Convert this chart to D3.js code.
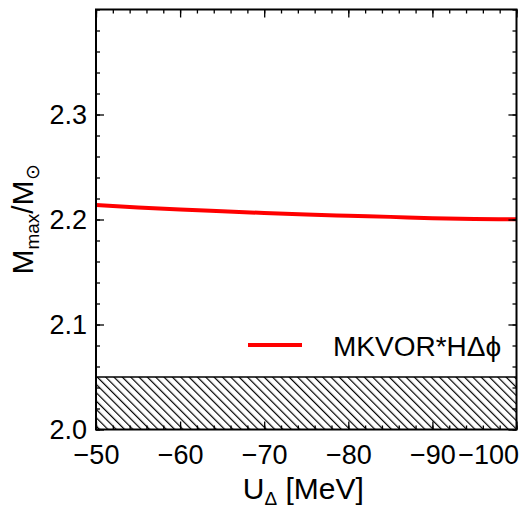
<!DOCTYPE html>
<html>
<head>
<meta charset="utf-8">
<script src="https://cdn.jsdelivr.net/npm/d3@7"></script>
<style>
  body { margin: 0; background: #fff; }
  text { font-family: "Liberation Sans", Arial, sans-serif; fill: #000; }
</style>
</head>
<body>
<div id="chart"></div>
<script>
// data
var uDelta = [-50, -55, -60, -65, -70, -75, -80, -85, -90, -95, -100];
var mMax = [2.2138, 2.2115, 2.2095, 2.2078, 2.2062, 2.2048, 2.2036, 2.2025, 2.2012, 2.2005, 2.2003];
var bandLimits = [2.0, 2.05];
var xTicks = [-50, -60, -70, -80, -90, -100];
var yTicks = [2.0, 2.1, 2.2, 2.3];
var seriesName = "MKVOR*HΔϕ";

var margin = {top: 9.5, right: 8.5, bottom: 78.5, left: 96},
    width = 525 - margin.left - margin.right,
    height = 508 - margin.top - margin.bottom;

var svg = d3.select("#chart")
    .append("svg")
    .attr("width", 525)
    .attr("height", 508);

var defs = svg.append("defs");
defs.append("pattern")
    .attr("id", "hatch")
    .attr("patternUnits", "userSpaceOnUse")
    .attr("width", 5.9)
    .attr("height", 5.9)
    .attr("patternTransform", "rotate(-45)")
    .append("line")
    .attr("x1", 0.6).attr("y1", 0)
    .attr("x2", 0.6).attr("y2", 5.9)
    .attr("stroke", "#000")
    .attr("stroke-width", 1.2);

defs.append("clipPath")
    .attr("id", "clip")
    .append("rect")
    .attr("width", width)
    .attr("height", height);

var g = svg.append("g")
    .attr("transform", "translate(" + margin.left + "," + margin.top + ")");

var x = d3.scaleLinear().domain([-50, -100]).range([0, width]);
var y = d3.scaleLinear().domain([2.0, 2.4]).range([height, 0]);

// hatched band
g.append("rect")
    .attr("x", 0)
    .attr("y", y(bandLimits[1]))
    .attr("width", width)
    .attr("height", y(bandLimits[0]) - y(bandLimits[1]))
    .attr("fill", "url(#hatch)");
g.append("line")
    .attr("x1", 0).attr("x2", width)
    .attr("y1", y(bandLimits[1])).attr("y2", y(bandLimits[1]))
    .attr("stroke", "#000")
    .attr("stroke-width", 1.4);

// curve
g.append("path")
    .datum(uDelta.map(function (d, i) { return [d, mMax[i]]; }))
    .attr("clip-path", "url(#clip)")
    .attr("fill", "none")
    .attr("stroke", "#ff0000")
    .attr("stroke-width", 4)
    .attr("d", d3.line()
        .x(function (d) { return x(d[0]); })
        .y(function (d) { return y(d[1]); })
        .curve(d3.curveMonotoneX));

// minor ticks
var xMinor = d3.range(-50, -100.1, -2);
var yMinor = d3.range(2.0, 2.401, 0.02);

function styleAxis(sel) {
    sel.select(".domain").remove();
    sel.selectAll(".tick line").attr("stroke", "#000").attr("stroke-width", 1.3);
    sel.selectAll(".tick text").style("font-size", "27px");
}

// bottom
g.append("g").attr("transform", "translate(0," + height + ")")
    .call(d3.axisBottom(x).tickValues(xMinor).tickSize(-4).tickFormat(""))
    .call(styleAxis);
var xb = g.append("g").attr("transform", "translate(0," + height + ")")
    .call(d3.axisBottom(x).tickValues(xTicks).tickSize(-8).tickPadding(15))
    .call(styleAxis);
xb.selectAll(".tick text")
    .filter(function (d) { return d === -100; })
    .attr("text-anchor", "end")
    .attr("dx", 2);
// top
g.append("g")
    .call(d3.axisTop(x).tickValues(xMinor).tickSize(-4).tickFormat(""))
    .call(styleAxis);
g.append("g")
    .call(d3.axisTop(x).tickValues(xTicks).tickSize(-8).tickFormat(""))
    .call(styleAxis);
// left
g.append("g")
    .call(d3.axisLeft(y).tickValues(yMinor).tickSize(-4).tickFormat(""))
    .call(styleAxis);
g.append("g")
    .call(d3.axisLeft(y).tickValues(yTicks).tickSize(-8).tickPadding(9).tickFormat(d3.format(".1f")))
    .call(styleAxis);
// right
g.append("g").attr("transform", "translate(" + width + ",0)")
    .call(d3.axisRight(y).tickValues(yMinor).tickSize(-4).tickFormat(""))
    .call(styleAxis);
g.append("g").attr("transform", "translate(" + width + ",0)")
    .call(d3.axisRight(y).tickValues(yTicks).tickSize(-8).tickFormat(""))
    .call(styleAxis);

// frame
g.append("rect")
    .attr("width", width)
    .attr("height", height)
    .attr("fill", "none")
    .attr("stroke", "#000")
    .attr("stroke-width", 2);

// legend
g.append("line")
    .attr("x1", 152).attr("x2", 206)
    .attr("y1", 335.5).attr("y2", 335.5)
    .attr("stroke", "#ff0000")
    .attr("stroke-width", 4);
g.append("text")
    .attr("x", 237)
    .attr("y", 346)
    .style("font-size", "28px")
    .text(seriesName);

// x title
var xt = svg.append("text")
    .attr("x", margin.left + width / 2 - 3)
    .attr("y", 499)
    .attr("text-anchor", "middle")
    .style("font-size", "30px");
xt.append("tspan").text("U");
xt.append("tspan").attr("dy", 6).style("font-size", "19px").text("Δ");
xt.append("tspan").attr("dy", -6).text(" [MeV]");

// y title
var yt = svg.append("text")
    .attr("transform", "translate(33," + (margin.top + height / 2) + ") rotate(-90)")
    .attr("text-anchor", "middle")
    .style("font-size", "30px");
yt.append("tspan").text("M");
yt.append("tspan").attr("dy", 6).style("font-size", "19px").text("max");
yt.append("tspan").attr("dy", -6).text("/M");
yt.append("tspan").attr("dy", 6).style("font-size", "19px").text("⊙");
</script>
</body>
</html>
